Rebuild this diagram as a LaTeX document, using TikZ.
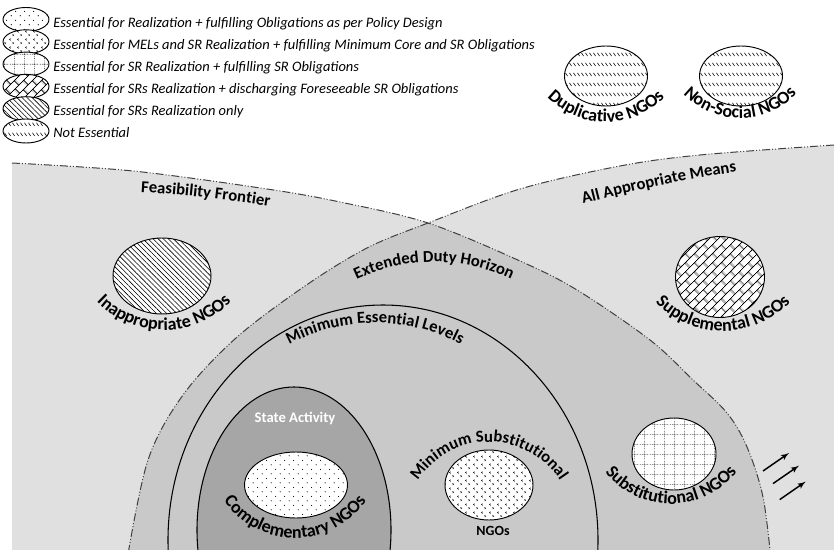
\documentclass[tikz,border=0pt]{standalone}
\usepackage{fontspec}
\setmainfont{Carlito}
\usetikzlibrary{arrows,patterns,patterns.meta,decorations.text}

\definecolor{outerzone}{RGB}{224,224,224}
\definecolor{innerzone}{RGB}{201,201,201}
\definecolor{statezone}{RGB}{166,166,166}
\definecolor{frontiergray}{RGB}{64,64,64}

\newcommand{\zonefont}{\fontsize{12.5}{15}\selectfont\bfseries}
\newcommand{\ngofont}{\fontsize{13.5}{16}\selectfont\bfseries}

% the two frontiers (px, y up)
\tikzset{
  feas arc/.style={insert path={-- plot[smooth,tension=0.55] coordinates {(12,-163) (133,-171) (267,-189) (340,-202) (428,-223) (520,-261) (577,-290) (650,-340) (693,-380) (727,-413) (747,-447) (763,-497) (771,-560)}}},
  means arc/.style={insert path={-- plot[smooth,tension=0.55] coordinates {(834,-145) (700,-155) (620,-166) (520,-189) (428,-223) (367,-248) (305,-286) (236,-338) (183,-395) (148,-460) (127,-560)}}}
}

% labels bent round a circle: centre x, centre y, radius, text
\newcommand{\smilelabel}[4]{\path[decorate,decoration={text along path,text={|\ngofont|#4},text align=center}] (#1,#2) ++(180:#3) arc[start angle=180,end angle=360,radius=#3];}
\newcommand{\frownlabel}[5]{\path[decorate,decoration={text along path,text={|#5|#4},text align=center}] (#1,#2) ++(180:#3) arc[start angle=180,end angle=0,radius=#3];}

% fills of the NGO ovals
\pgfdeclarepattern{name=sparsedots,type=uncolored,
  bottom left={\pgfpoint{0pt}{0pt}},top right={\pgfpoint{7pt}{7pt}},
  tile size={\pgfpoint{7pt}{7pt}},
  code={\pgfpathcircle{\pgfpoint{1.75pt}{1.75pt}}{0.45pt}
        \pgfpathcircle{\pgfpoint{5.25pt}{5.25pt}}{0.45pt}
        \pgfusepath{fill}}}
\pgfdeclarepattern{name=divots,type=uncolored,
  bottom left={\pgfpoint{0pt}{0pt}},top right={\pgfpoint{6pt}{6pt}},
  tile size={\pgfpoint{6pt}{6pt}},
  code={\pgfsetlinewidth{0.4pt}
        \pgfpathmoveto{\pgfpoint{2.2pt}{5.2pt}}\pgfpathlineto{\pgfpoint{1.2pt}{4.5pt}}\pgfpathlineto{\pgfpoint{2.2pt}{3.8pt}}
        \pgfpathmoveto{\pgfpoint{3.8pt}{2.2pt}}\pgfpathlineto{\pgfpoint{4.8pt}{1.5pt}}\pgfpathlineto{\pgfpoint{3.8pt}{0.8pt}}
        \pgfusepath{stroke}}}
\pgfdeclarepattern{name=dotgrid,type=uncolored,
  bottom left={\pgfpoint{0pt}{0pt}},top right={\pgfpoint{7.5pt}{7.5pt}},
  tile size={\pgfpoint{7.5pt}{7.5pt}},
  code={\pgfsetlinewidth{0.5pt}\pgfsetdash{{0.6pt}{0.9pt}}{0pt}
        \pgfpathmoveto{\pgfpoint{0pt}{3.75pt}}\pgfpathlineto{\pgfpoint{7.5pt}{3.75pt}}
        \pgfpathmoveto{\pgfpoint{3.75pt}{0pt}}\pgfpathlineto{\pgfpoint{3.75pt}{7.5pt}}
        \pgfusepath{stroke}}}
\pgfdeclarepattern{name=slantbricks,type=uncolored,
  bottom left={\pgfpoint{0pt}{0pt}},top right={\pgfpoint{10pt}{10pt}},
  tile size={\pgfpoint{10pt}{10pt}},
  tile transformation={\pgftransformrotate{45}},
  code={\pgfsetlinewidth{0.65pt}
        \pgfpathmoveto{\pgfpoint{0pt}{2.5pt}}\pgfpathlineto{\pgfpoint{10pt}{2.5pt}}
        \pgfpathmoveto{\pgfpoint{0pt}{7.5pt}}\pgfpathlineto{\pgfpoint{10pt}{7.5pt}}
        \pgfpathmoveto{\pgfpoint{2.5pt}{2.5pt}}\pgfpathlineto{\pgfpoint{2.5pt}{7.5pt}}
        \pgfpathmoveto{\pgfpoint{7.5pt}{7.5pt}}\pgfpathlineto{\pgfpoint{7.5pt}{10pt}}
        \pgfpathmoveto{\pgfpoint{7.5pt}{0pt}}\pgfpathlineto{\pgfpoint{7.5pt}{2.5pt}}
        \pgfusepath{stroke}}}
\pgfdeclarepattern{name=dashrows,type=uncolored,
  bottom left={\pgfpoint{0pt}{0pt}},top right={\pgfpoint{2.6pt}{7.5pt}},
  tile size={\pgfpoint{2.6pt}{7.5pt}},
  code={\pgfsetlinewidth{0.45pt}
        \pgfpathmoveto{\pgfpoint{0.4pt}{5pt}}\pgfpathlineto{\pgfpoint{2.2pt}{2.4pt}}
        \pgfusepath{stroke}}}

\begin{document}
\begin{tikzpicture}[x=0.75pt,y=0.75pt,>=latex',
    ngo/.style={draw,line width=0.7pt,preaction={fill=white}},
    fill dots/.style={pattern=sparsedots},
    fill divots/.style={pattern=divots},
    fill grid/.style={pattern=dotgrid},
    fill bricks/.style={pattern=slantbricks},
    fill lines/.style={pattern={Lines[angle=-45,distance=2.7pt,line width=0.45pt]}},
    fill dashes/.style={pattern=dashrows},
    frontierline/.style={draw=frontiergray,line width=0.75pt,dash pattern=on 6pt off 1.5pt on 0.75pt off 1.5pt on 0.75pt off 1.5pt},
    legendtext/.style={anchor=base west,inner sep=0pt,font=\fontsize{10.85}{12}\selectfont\itshape},
    push/.style={->,line width=1.1pt}]
  \useasboundingbox (0,0) rectangle (834,-549);

  % legend
  \foreach \pat/\txt [count=\i] in {fill dots/Essential for Realization + fulfilling Obligations as per Policy Design,
      fill divots/Essential for MELs and SR Realization + fulfilling Minimum Core and SR Obligations,
      fill grid/Essential for SR Realization + fulfilling SR Obligations,
      fill bricks/Essential for SRs Realization + discharging Foreseeable SR Obligations,
      fill lines/Essential for SRs Realization only,
      fill dashes/Not Essential}{
    \draw[ngo,\pat] (26,{-19.5-22.3*(\i-1)}) ellipse[x radius=23,y radius=12];
    \node[legendtext] (leg\i) at (53,{-27.2-22.1*(\i-1)}) {\txt};
  }

  % zones
  \begin{scope}
    \clip (0,0) rectangle (834,-549);
    \fill[outerzone] (12,-560) [feas arc] -- cycle;
    \fill[outerzone] (840,-560) [means arc] -- cycle;
    \begin{scope}
      \clip (12,-560) [feas arc] -- cycle;
      \fill[innerzone] (840,-560) [means arc] -- cycle;
    \end{scope}
    \draw[line width=0.8pt] (383,-540) ellipse[x radius=215,y radius=235];
    \draw[line width=0.8pt,fill=statezone] (294,-530) ellipse[x radius=97,y radius=143];
    \draw[frontierline] (12,-163) [feas arc];
    \draw[frontierline] (834,-145) [means arc];
  \end{scope}

  % zone names
  \path[decorate,decoration={text along path,text={|\zonefont|Feasibility Frontier},text align=center}]
    (120,-191) .. controls (170,-193) and (230,-199) .. (290,-210);
  \path[decorate,decoration={text along path,text={|\zonefont|All Appropriate Means},text align=center}]
    (570,-207) .. controls (630,-191) and (690,-178) .. (750,-170);
  \frownlabel{434}{-442}{180}{Extended Duty Horizon}{\zonefont}
  \frownlabel{375}{-505}{182}{Minimum Essential Levels}{\zonefont}
  \node[text=white,font=\fontsize{11}{13}\selectfont\bfseries] (state) at (295,-418) {State Activity};

  % NGOs
  \draw[ngo,fill dashes] (606,-76) ellipse[x radius=41.5,y radius=30];
  \smilelabel{606}{-40}{82}{Duplicative NGOs}
  \draw[ngo,fill dashes] (741,-76) ellipse[x radius=41.5,y radius=30];
  \smilelabel{740}{-39}{79}{Non-Social NGOs}
  \draw[ngo,fill lines] (162,-276) ellipse[x radius=49,y radius=38];
  \smilelabel{164}{-236}{94}{Inappropriate NGOs}
  \draw[ngo,fill bricks] (720,-277) ellipse[x radius=44.5,y radius=40.5];
  \smilelabel{723}{-237}{94}{Supplemental NGOs}
  \draw[ngo,fill grid] (674,-454) ellipse[x radius=42,y radius=36];
  \smilelabel{671}{-420}{84}{Substitutional NGOs}
  \draw[ngo,fill divots] (489,-485) ellipse[x radius=44,y radius=35];
  \frownlabel{489}{-527}{85}{Minimum Substitutional}{\fontsize{12.5}{15}\selectfont\bfseries}
  \node[font=\fontsize{10.5}{12}\selectfont\bfseries] (msngos) at (493,-531) {NGOs};
  \draw[ngo,fill dots] (296,-485) ellipse[x radius=51.5,y radius=33];
  \smilelabel{295}{-451}{87}{Complementary NGOs}

  % outward push
  \foreach \dx/\dy [count=\k] in {0/0,10/-12.6,16.7/-28.6}{
    \coordinate (push\k s) at (763+\dx,-471+\dy);
    \coordinate (push\k e) at (789+\dx,-453+\dy);
    \draw[push] (push\k s) -- (push\k e);
  }
\end{tikzpicture}
\end{document}
